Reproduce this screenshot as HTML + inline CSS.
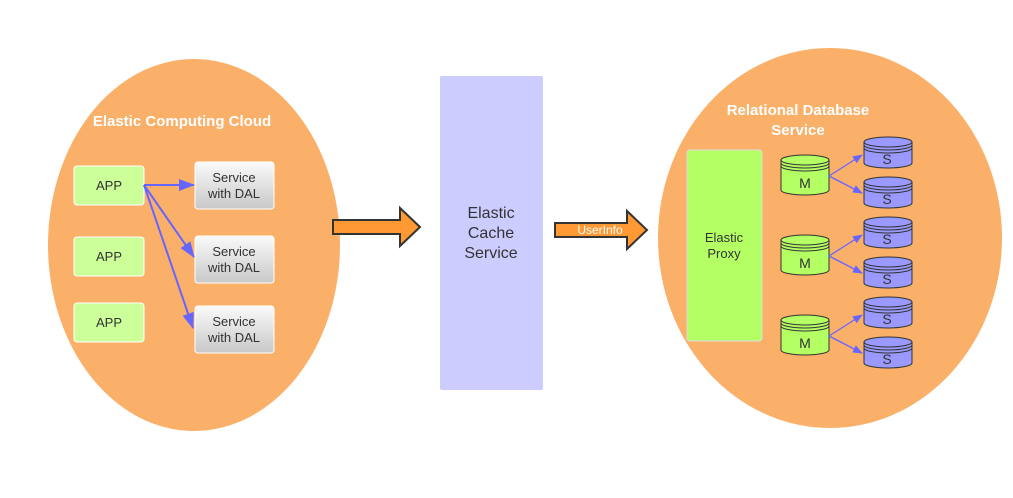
<!DOCTYPE html>
<html><head><meta charset="utf-8"><style>
body{margin:0;background:#fff;width:1013px;height:493px;overflow:hidden}
text{font-family:"Liberation Sans","DejaVu Sans",sans-serif}
</style></head><body>
<svg width="1013" height="493" viewBox="0 0 1013 493" xmlns="http://www.w3.org/2000/svg">
<defs>
<linearGradient id="g" x1="0" y1="0" x2="0" y2="1"><stop offset="0" stop-color="#fafafa"/><stop offset="1" stop-color="#c8c8c8"/></linearGradient>
<marker id="a" markerWidth="10" markerHeight="8" refX="9" refY="4" orient="auto" markerUnits="userSpaceOnUse"><path d="M0,0 L10,4 L0,8 Z" fill="#6666ff"/></marker>
<marker id="b" markerWidth="16" markerHeight="12" refX="15" refY="6" orient="auto" markerUnits="userSpaceOnUse"><path d="M0,0 L16,6 L0,12 Z" fill="#6666ff"/></marker>
<g id="cylG"><path d="M0,5 L0,35 A24,5 0 0 0 48,35 L48,5" fill="#b4ff64" stroke="#333" stroke-width="1"/><ellipse cx="24" cy="5" rx="24" ry="5" fill="#b4ff64" stroke="#333"/><path d="M0,8 A24,5 0 0 0 48,8 M0,11 A24,5 0 0 0 48,11" fill="none" stroke="#333"/></g>
<g id="cylB"><path d="M0,5 L0,26 A24,5 0 0 0 48,26 L48,5" fill="#9999ff" stroke="#333" stroke-width="1"/><ellipse cx="24" cy="5" rx="24" ry="5" fill="#9999ff" stroke="#333"/><path d="M0,8 A24,5 0 0 0 48,8 M0,11 A24,5 0 0 0 48,11" fill="none" stroke="#333"/></g>
</defs>
<ellipse cx="194" cy="245" rx="146" ry="186" fill="#fbb069"/>
<ellipse cx="830" cy="238" rx="172" ry="190" fill="#fbb069"/>
<text x="182" y="126" font-size="15" font-weight="bold" fill="#fff" text-anchor="middle">Elastic Computing Cloud</text>
<text x="798" y="115" font-size="15" font-weight="bold" fill="#fff" text-anchor="middle">Relational Database</text>
<text x="798" y="135" font-size="15" font-weight="bold" fill="#fff" text-anchor="middle">Service</text>
<g fill="#ccff99" stroke="#fff" stroke-width="1">
<rect x="74" y="166" width="70" height="39" rx="3"/><rect x="74" y="237" width="70" height="39" rx="3"/><rect x="74" y="303" width="70" height="39" rx="3"/></g>
<g font-size="13" fill="#333" text-anchor="middle"><text x="109" y="190">APP</text><text x="109" y="261">APP</text><text x="109" y="327">APP</text></g>
<g fill="url(#g)" stroke="#fff"><rect x="195" y="162" width="79" height="47" rx="3"/><rect x="195" y="236" width="79" height="47" rx="3"/><rect x="195" y="306" width="79" height="47" rx="3"/></g>
<g font-size="13" fill="#333" text-anchor="middle">
<text x="234" y="182">Service</text><text x="234" y="198">with DAL</text>
<text x="234" y="256">Service</text><text x="234" y="272">with DAL</text>
<text x="234" y="326">Service</text><text x="234" y="342">with DAL</text></g>
<g stroke="#6666ff" stroke-width="2" fill="none" marker-end="url(#b)">
<line x1="144" y1="185" x2="194" y2="185"/><line x1="144" y1="185" x2="194" y2="257"/><line x1="144" y1="185" x2="193" y2="328"/></g>
<path d="M333,220 L400,220 L400,208 L420,227 L400,246 L400,234 L333,234 Z" fill="#ff9933" stroke="#333" stroke-width="2"/>
<rect x="440" y="76" width="103" height="314" fill="#ccccff" rx="2"/>
<g font-size="16" fill="#333" text-anchor="middle"><text x="491" y="218">Elastic</text><text x="491" y="238">Cache</text><text x="491" y="258">Service</text></g>
<path d="M555,223 L627,223 L627,211 L647,230 L627,249 L627,237 L555,237 Z" fill="#ff9933" stroke="#333" stroke-width="2"/>
<text x="600" y="234" font-size="12" fill="#fff" text-anchor="middle">UserInfo</text>
<rect x="687" y="150" width="75" height="191" rx="3" fill="#b4ff64" stroke="#ddd"/>
<g font-size="13" fill="#333" text-anchor="middle"><text x="724" y="242">Elastic</text><text x="724" y="258">Proxy</text></g>
<use href="#cylG" x="781" y="155"/><use href="#cylG" x="781" y="235"/><use href="#cylG" x="781" y="315"/>
<use href="#cylB" x="864" y="137"/><use href="#cylB" x="864" y="177"/><use href="#cylB" x="864" y="217"/><use href="#cylB" x="864" y="257"/><use href="#cylB" x="864" y="297"/><use href="#cylB" x="864" y="337"/>
<g font-size="14" fill="#333" text-anchor="middle">
<text x="805" y="188">M</text><text x="805" y="268">M</text><text x="805" y="348">M</text>
<text x="887" y="164">S</text><text x="887" y="204">S</text><text x="887" y="244">S</text><text x="887" y="284">S</text><text x="887" y="324">S</text><text x="887" y="364">S</text></g>
<g stroke="#6666ff" stroke-width="1.3" fill="none" marker-end="url(#a)">
<line x1="829" y1="176" x2="862" y2="155"/><line x1="829" y1="176" x2="862" y2="193"/>
<line x1="829" y1="256" x2="862" y2="235"/><line x1="829" y1="256" x2="862" y2="273"/>
<line x1="829" y1="336" x2="862" y2="315"/><line x1="829" y1="336" x2="862" y2="353"/></g>
</svg>
</body></html>
